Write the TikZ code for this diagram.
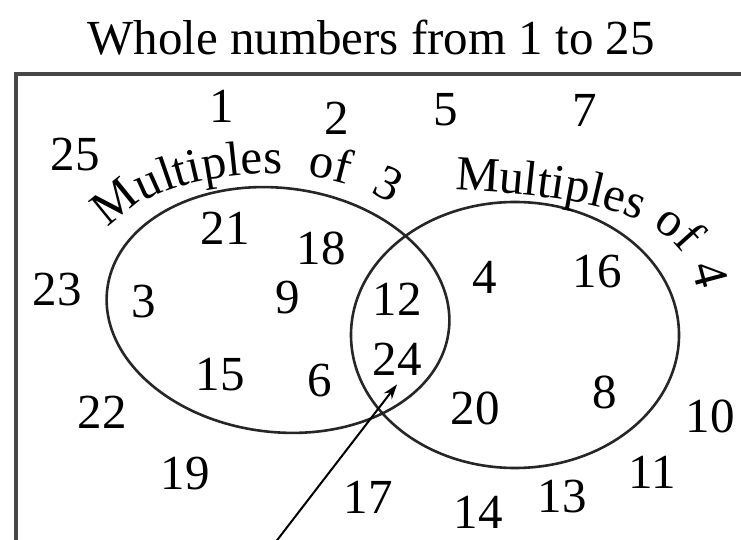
\documentclass[tikz,border=0pt]{standalone}
\usepackage{fontspec}
\setmainfont{Liberation Serif}
\usetikzlibrary{arrows.meta,decorations.text}
\newcommand{\vnfont}{\fontsize{49}{49}\selectfont}
\tikzset{
  num/.style={inner sep=0pt, font=\vnfont},
  ring/.style={line width=2.6pt, black!85},
  frame/.style={line width=3.5pt, black!72},
  sig/.style={-{Stealth[length=15pt,width=10pt]}, line width=2pt},
  curvlbl/.style={decorate, decoration={text along path,
      text align={fit to path stretching spaces}, text={|\vnfont|#1}}},
}
\begin{document}
\begin{tikzpicture}[x=1pt,y=1pt]
    \useasboundingbox (0,0) rectangle (741,540);
    \clip (0,0) rectangle (741,540);
    \node[num,anchor=base] (title) at (371,485) {Whole numbers from 1 to 25};
    \draw[frame] (16,466) rectangle (790,-40);
    \coordinate (c3) at (278,230);
    \coordinate (c4) at (515,205);
    \draw[ring, rotate around={-7:(c3)}] (c3) ellipse [x radius=172, y radius=122];
    \draw[ring] (c4) ellipse [x radius=164, y radius=133];
    \path[curvlbl={Multiples of 3}] (110,310) .. controls (142,362) and (300,392) .. (392,336);
    \path[curvlbl={Multiples of 4}] (455,350) .. controls (575,344) and (688,330) .. (697,250);
    \node[num] (n1) at (222,434) {1};
    \node[num] (n2) at (337,422) {2};
    \node[num] (n5) at (446,430) {5};
    \node[num] (n7) at (585,430) {7};
    \node[num] (n25) at (75,385) {25};
    \node[num] (n21) at (225,312) {21};
    \node[num] (n18) at (321,292) {18};
    \node[num] (n23) at (57,250) {23};
    \node[num] (n3) at (144,238) {3};
    \node[num] (n9) at (288,242) {9};
    \node[num] (n12) at (397,241) {12};
    \node[num] (n4) at (485,263) {4};
    \node[num] (n16) at (597,268) {16};
    \node[num] (n15) at (220,165) {15};
    \node[num] (n6) at (320,159) {6};
    \node[num] (n24) at (397,181) {24};
    \node[num] (n22) at (102,128) {22};
    \node[num] (n20) at (475,132) {20};
    \node[num] (n8) at (605,148) {8};
    \node[num] (n10) at (710,124) {10};
    \node[num] (n19) at (185,66) {19};
    \node[num] (n17) at (368,43) {17};
    \node[num] (n14) at (478,28) {14};
    \node[num] (n13) at (562,43) {13};
    \node[num] (n11) at (652,68) {11};
    \coordinate (tail) at (268,-12);
    \draw[sig] (tail) -- ([yshift=-9pt]n24.south);
\end{tikzpicture}
\end{document}
